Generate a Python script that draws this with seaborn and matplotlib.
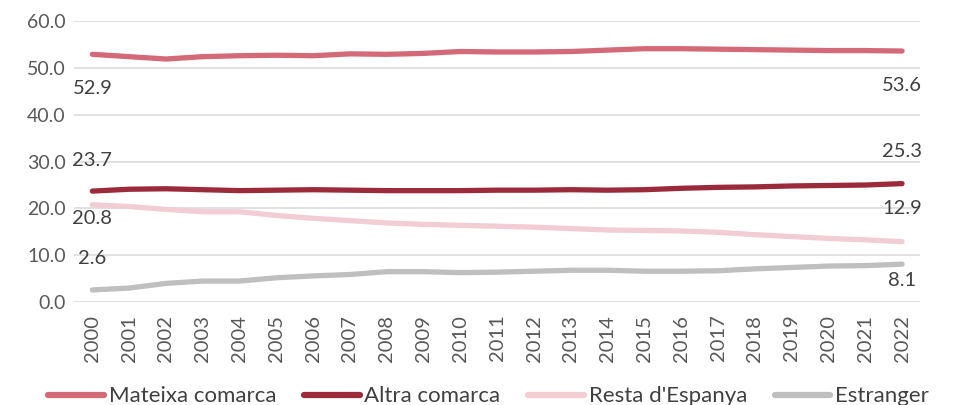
import pandas as pd
import seaborn as sns
import matplotlib.pyplot as plt

years = list(range(2000, 2023))

mateixa = [52.9, 52.4, 51.9, 52.4, 52.6, 52.7, 52.6, 53.0, 52.9, 53.1, 53.5, 53.4,
           53.4, 53.5, 53.8, 54.1, 54.1, 54.0, 53.9, 53.8, 53.7, 53.7, 53.6]
altra = [23.7, 24.1, 24.2, 24.0, 23.8, 23.9, 24.0, 23.9, 23.8, 23.8, 23.8, 23.9,
         23.9, 24.0, 23.9, 24.0, 24.3, 24.5, 24.6, 24.8, 24.9, 25.0, 25.3]
resta = [20.8, 20.4, 19.8, 19.3, 19.3, 18.5, 17.9, 17.4, 16.9, 16.6, 16.4, 16.2,
         16.0, 15.7, 15.4, 15.3, 15.2, 14.9, 14.4, 14.0, 13.6, 13.3, 12.9]
estranger = [2.6, 3.0, 4.0, 4.5, 4.5, 5.2, 5.6, 5.9, 6.5, 6.5, 6.3, 6.4,
             6.6, 6.8, 6.8, 6.6, 6.6, 6.7, 7.1, 7.4, 7.7, 7.8, 8.1]

series = ["Mateixa comarca", "Altra comarca", "Resta d'Espanya", "Estranger"]
colors = ["#d46a77", "#9b2b3a", "#f2cdd3", "#bfbfbf"]

df = pd.DataFrame({"any": years, series[0]: mateixa, series[1]: altra,
                   series[2]: resta, series[3]: estranger})
long = df.melt(id_vars="any", var_name="origen", value_name="valor")

sns.set_style("white")
plt.rcParams['font.family'] = ['Lato', 'DejaVu Sans']

fig = plt.figure(figsize=(9.73, 4.05), dpi=100)
ax = fig.add_axes([0.076, 0.254, 0.87, 0.694])

sns.lineplot(data=long, x="any", y="valor", hue="origen", palette=colors,
             hue_order=series, linewidth=3.8, ax=ax, solid_capstyle="round")

ax.set_xlim(1999.5, 2022.5)
ax.set_ylim(0, 60)
ax.set_yticks(range(0, 61, 10))
ax.set_yticklabels([f"{v:.1f}" for v in range(0, 61, 10)], fontsize=14, color="#595959")
ax.set_xticks(years)
ax.set_xticklabels([str(y) for y in years], rotation=90, fontsize=14.5, color="#595959")
ax.tick_params(axis="y", length=0, pad=6)
ax.tick_params(axis="x", length=0, pad=9)
ax.grid(axis="y", color="#dcdcdc", linewidth=1.2)
ax.set_xlabel("")
ax.set_ylabel("")
for s in ax.spines.values():
    s.set_visible(False)

# data labels at first and last year (offsets in pixels)
first_off = [-34, 31, -14, 31]
last_off = [-34, 32, 33, -16]
for name, vals, o1, o2 in zip(series, [mateixa, altra, resta, estranger], first_off, last_off):
    ax.annotate(f"{vals[0]:.1f}", (years[0], vals[0]), xytext=(0, o1),
                textcoords="offset pixels", ha="center", va="center",
                fontsize=14.5, color="#404040")
    ax.annotate(f"{vals[-1]:.1f}", (years[-1], vals[-1]), xytext=(0, o2),
                textcoords="offset pixels", ha="center", va="center",
                fontsize=14.5, color="#404040")

leg = ax.legend(loc="center", bbox_to_anchor=(0.49, -0.335), ncol=4, frameon=False,
                fontsize=16, handlelength=2.5, columnspacing=1.25, handletextpad=0.22,
                labelcolor="#404040", borderpad=0)
for h in leg.get_lines():
    h.set_linewidth(4.5)

fig.savefig("out.png", dpi=100)
